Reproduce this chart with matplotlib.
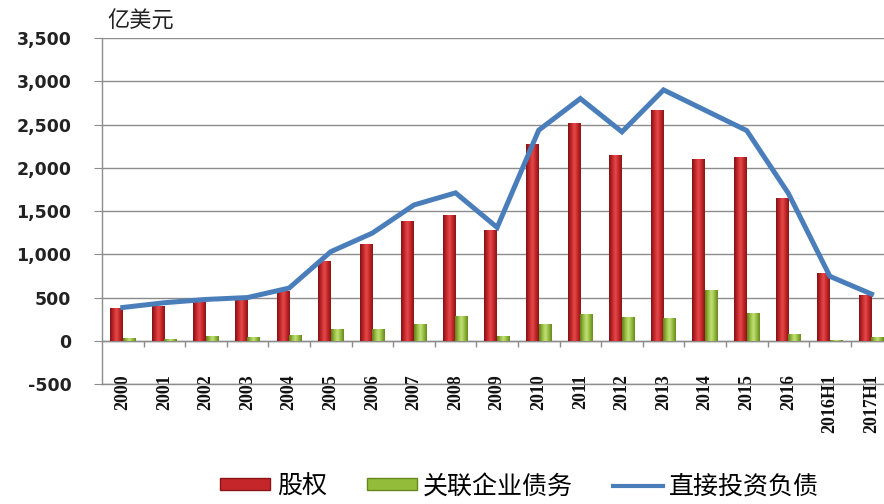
import matplotlib
matplotlib.use("Agg")
import matplotlib.pyplot as plt
from matplotlib.patches import Patch
from matplotlib.lines import Line2D
from matplotlib.colors import LinearSegmentedColormap
import numpy as np

categories = ['2000', '2001', '2002', '2003', '2004', '2005', '2006', '2007',
              '2008', '2009', '2010', '2011', '2012', '2013', '2014', '2015',
              '2016', '2016H1', '2017H1']
equity = [380, 405, 455, 475, 575, 925, 1120, 1390, 1450, 1280, 2270,
          2515, 2150, 2665, 2105, 2125, 1645, 780, 530]
affiliate_debt = [28, 22, 54, 42, 72, 135, 135, 190, 290, 58, 192,
                  308, 273, 262, 590, 320, 73, 10, 42]
fdi_liabilities = [385, 440, 478, 500, 610, 1030, 1245, 1570, 1710, 1310,
                   2435, 2800, 2415, 2900, 2665, 2430, 1705, 745, 540]

cjk = ['Noto Sans CJK SC', 'DejaVu Sans']

red_cmap = LinearSegmentedColormap.from_list(
    'red_bar', ['#7E1214', '#C42629', '#E44A4C', '#C42629', '#8A1517'])
green_cmap = LinearSegmentedColormap.from_list(
    'green_bar', ['#5E7E1E', '#93BC3A', '#C6E07E', '#93BC3A', '#66871F'])


def shade_bars(ax, bars, cmap):
    # paint each bar with a left-to-right gradient to give a cylinder look
    grad = np.linspace(0, 1, 64).reshape(1, -1)
    for b in bars:
        x0, y0 = b.get_x(), b.get_y()
        w, h = b.get_width(), b.get_height()
        im = ax.imshow(grad, cmap=cmap, aspect='auto', zorder=3,
                       extent=(x0, x0 + w, y0, y0 + h), interpolation='bicubic')
        im.set_clip_path(b)
        b.set_facecolor('none')
        b.set_edgecolor('none')


fig = plt.figure(figsize=(8.84, 5.04), dpi=100)
ax = fig.add_axes([0.1154, 0.238, 0.894, 0.6866])

x = np.arange(len(categories))
w = 0.30
red_bars = ax.bar(x - 0.155, equity, width=w, zorder=3)
green_bars = ax.bar(x + 0.145, affiliate_debt, width=w, zorder=3)
shade_bars(ax, red_bars, red_cmap)
shade_bars(ax, green_bars, green_cmap)

ax.plot(x, fdi_liabilities, color='#4A7EBB', linewidth=3.6, zorder=4,
        solid_joinstyle='miter')

ax.set_xlim(-0.5, len(categories) - 0.5)
ax.set_ylim(-500, 3500)
ax.set_yticks(np.arange(-500, 3501, 500))
ax.set_yticklabels([f'{v:,}' for v in range(-500, 3501, 500)],
                   fontsize=12.5, fontweight='bold', color='#222222')
ax.yaxis.grid(True, color='#8C8C8C', linewidth=1.0, zorder=0)
ax.axhline(-500, color='#8C8C8C', linewidth=1.0, zorder=2, clip_on=False)
ax.tick_params(axis='y', length=6, color='#8C8C8C', pad=16)

ax.set_xticks(x)
ax.set_xticklabels(categories, rotation=90, family='Liberation Serif',
                   fontsize=13, fontweight='bold', color='#111111')
ax.tick_params(axis='x', length=0, pad=-7)

# short category separators hanging from the zero line
ax.vlines(x[1:] - 0.5, -75, 0, color='#8C8C8C', linewidth=1.0, zorder=2)
ax.axhline(0, color='#8C8C8C', linewidth=1.0, zorder=2)

for side in ['top', 'right', 'bottom']:
    ax.spines[side].set_visible(False)
ax.spines['left'].set_color('#8C8C8C')
ax.spines['left'].set_linewidth(1.0)

fig.text(0.121, 0.958, '亿美元', family=cjk, fontsize=16, color='#222222',
         va='center', ha='left')

handles = [Patch(facecolor='#C42629', edgecolor='#8A1517'),
           Patch(facecolor='#93BC3A', edgecolor='#66871F'),
           Line2D([0], [0], color='#4A7EBB', linewidth=3)]
labels = ['股权', '关联企业债务', '直接投资负债']
fig.legend(handles, labels, loc='center', bbox_to_anchor=(0.588, 0.035),
           ncol=3, frameon=False, prop={'family': cjk, 'size': 18},
           handlelength=2.0, handleheight=0.35, handletextpad=0.25,
           columnspacing=1.6)

fig.savefig('out.png', dpi=100)
